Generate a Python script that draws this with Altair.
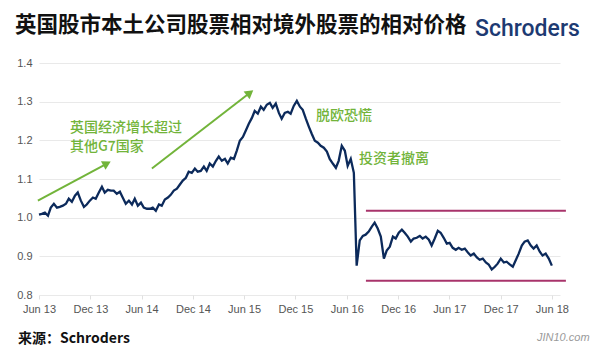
import altair as alt
import pandas as pd

title_text = "英国股市本土公司股票相对境外股票的相对价格"
brand_text = "Schroders"
source_text = "来源：Schroders"
watermark_text = "JIN10.com"

values = [
    1.008, 1.010, 1.013, 1.005, 1.026, 1.036, 1.026, 1.028, 1.031, 1.036,
    1.049, 1.041, 1.057, 1.065, 1.044, 1.028, 1.034, 1.044, 1.052, 1.049,
    1.065, 1.080, 1.065, 1.072, 1.070, 1.070, 1.062, 1.067, 1.052, 1.036,
    1.044, 1.034, 1.049, 1.031, 1.039, 1.026, 1.023, 1.023, 1.026, 1.018,
    1.034, 1.031, 1.047, 1.052, 1.059, 1.070, 1.075, 1.085, 1.096, 1.103,
    1.119, 1.116, 1.127, 1.119, 1.121, 1.132, 1.121, 1.140, 1.132, 1.147,
    1.158, 1.147, 1.152, 1.140, 1.155, 1.152, 1.173, 1.199, 1.209, 1.225,
    1.243, 1.258, 1.276, 1.269, 1.287, 1.279, 1.292, 1.297, 1.284, 1.295,
    1.271, 1.256, 1.271, 1.274, 1.269, 1.289, 1.302, 1.287, 1.279, 1.256,
    1.235, 1.217, 1.199, 1.194, 1.186, 1.181, 1.171, 1.152, 1.140, 1.129,
    1.147, 1.186, 1.173, 1.134, 1.152, 1.116, 0.876, 0.941, 0.953, 0.956,
    0.964, 0.977, 0.987, 0.972, 0.951, 0.894, 0.915, 0.925, 0.951, 0.946,
    0.961, 0.969, 0.961, 0.951, 0.938, 0.946, 0.948, 0.953, 0.946, 0.951,
    0.943, 0.928, 0.946, 0.966, 0.961, 0.948, 0.933, 0.935, 0.922, 0.917,
    0.922, 0.917, 0.920, 0.910, 0.902, 0.907, 0.897, 0.891, 0.894, 0.884,
    0.879, 0.866, 0.873, 0.881, 0.894, 0.884, 0.886, 0.879, 0.873, 0.889,
    0.907, 0.928, 0.938, 0.941, 0.928, 0.920, 0.928, 0.912, 0.902, 0.907,
    0.894, 0.876,
]
start_date = "2013-06-01"
end_date = "2018-06-01"
dates = pd.date_range(start_date, end_date, periods=len(values)).strftime("%Y-%m-%d")

tick_months = [(2013, 6), (2013, 12), (2014, 6), (2014, 12), (2015, 6), (2015, 12),
               (2016, 6), (2016, 12), (2017, 6), (2017, 12), (2018, 6)]
y_ticks = [0.8, 0.9, 1.0, 1.1, 1.2, 1.3, 1.4]

band_levels = [1.018, 0.837]
band_start = "2016-08-08"
band_end = "2018-07-21"

arrow_x0 = ["2013-05-28", "2014-07-08"]
arrow_y0 = [1.044, 1.127]
arrow_x1 = ["2014-01-29", "2015-06-22"]
arrow_y1 = [1.140, 1.323]
arrow_angle = [62, 52]

note_text = ["英国经济增长超过", "其他G7国家", "脱欧恐慌", "投资者撤离"]
note_x = ["2013-09-19", "2013-09-19", "2016-02-12", "2016-07-14"]
note_y = [1.233, 1.183, 1.264, 1.152]

GREEN = "#72b43a"
NAVY = "#0c2a5b"
MAGENTA = "#a8346b"
CJK = "Noto Sans CJK SC"

df = pd.DataFrame({"date": dates, "value": values})
band_df = pd.DataFrame({"level": band_levels, "start": [band_start] * 2, "end": [band_end] * 2})
arrow_df = pd.DataFrame({"x0": arrow_x0, "y0": arrow_y0, "x1": arrow_x1, "y1": arrow_y1, "ang": arrow_angle})
note_df = pd.DataFrame({"t": note_text, "x": note_x, "y": note_y})

xscale = alt.Scale(type="utc", domain=[alt.DateTime(year=2013, month=6, date=1, utc=True),
                                       alt.DateTime(year=2018, month=6, date=30, utc=True)])
yscale = alt.Scale(domain=[0.8, 1.4], nice=False, zero=False)

xaxis = alt.Axis(values=[alt.DateTime(year=y, month=m, date=1, utc=True) for y, m in tick_months],
                 format="%b %y", grid=False, domain=False, ticks=True, tickColor="#e0e0e0",
                 tickSize=4, labelFontSize=11, labelColor="#555555", labelPadding=4,
                 labelFont="Liberation Sans", labelFlush=False, labelOverlap=False, title=None)
yaxis = alt.Axis(values=y_ticks, format=".1f", grid=True, gridColor="#e9e9e9", domain=False,
                 ticks=False, labelFontSize=11, labelColor="#555555", labelPadding=7,
                 labelFont="Liberation Sans", labelFlush=False, labelOverlap=False, title=None)


def X(field):
    return alt.X(field, scale=xscale, axis=xaxis)


def Y(field):
    return alt.Y(field, scale=yscale, axis=yaxis)


line = alt.Chart(df).mark_line(color=NAVY, strokeWidth=2.3).encode(
    x=X("date:T"), y=Y("value:Q"),
)

bands = alt.Chart(band_df).mark_rule(color=MAGENTA, strokeWidth=2).encode(
    x=X("start:T"), x2="end:T", y=Y("level:Q")
)

arrows = alt.Chart(arrow_df).mark_rule(color=GREEN, strokeWidth=2).encode(
    x=X("x0:T"), x2="x1:T", y=Y("y0:Q"), y2="y1:Q"
)
heads = alt.Chart(arrow_df).mark_point(shape="triangle-up", filled=True, size=95,
                                       color=GREEN, opacity=1).encode(
    x=X("x1:T"), y=Y("y1:Q"), angle=alt.Angle("ang:Q", scale=None)
)

notes = alt.Chart(note_df).mark_text(align="left", baseline="middle", font=CJK,
                                     fontSize=14, color=GREEN, fontWeight=500).encode(
    x=X("x:T"), y=Y("y:Q"), text="t:N"
)


def label(txt, x, y, **kw):
    return alt.Chart(pd.DataFrame({"t": [txt]})).mark_text(**kw).encode(
        text="t:N", x=alt.value(x), y=alt.value(y))


title = label(title_text, -24, -37, align="left", baseline="middle", font=CJK,
              fontSize=21.5, fontWeight="bold", color="#111111")
brand = label(brand_text, 436, -27, align="left", baseline="alphabetic", font="Roboto",
              fontSize=23, fontWeight=500, color="#1d3a72")
source = label(source_text, -21, 276, align="left", baseline="middle", font=CJK,
               fontSize=14, fontWeight="bold", color="#111111")
mark_w = label(watermark_text, 498, 275, align="left", baseline="middle",
               font="Liberation Sans", fontSize=11, fontStyle="italic", color="#9a9a9a")

chart = alt.layer(line, bands, arrows, heads, notes, title, brand, source, mark_w).properties(
    width=521, height=232, autosize="none",
    padding={"left": 39, "top": 63, "right": 40, "bottom": 57},
).configure_view(stroke=None)

chart.save("out.html", embed_options={"renderer": "svg", "actions": False})
